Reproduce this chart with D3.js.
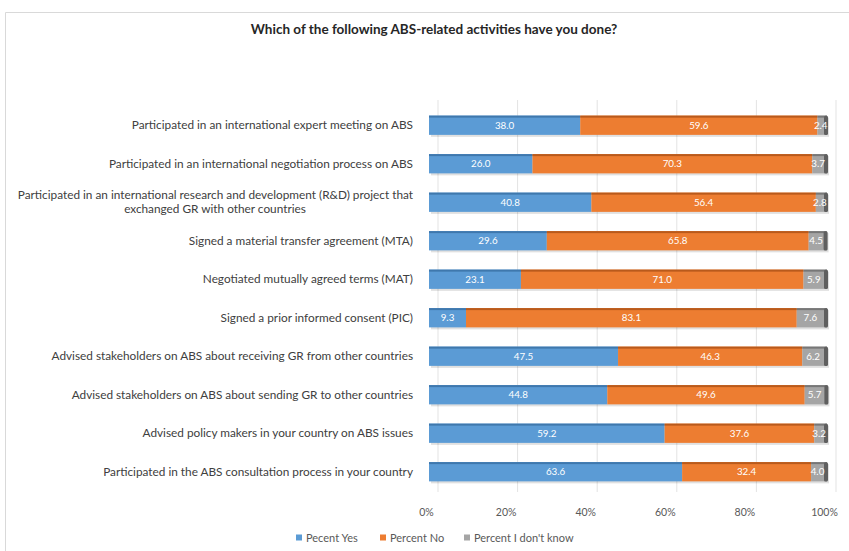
<!DOCTYPE html>
<html>
<head>
<meta charset="utf-8">
<script src="https://cdn.jsdelivr.net/npm/d3@7/dist/d3.min.js"></script>
<style>
  html, body { margin: 0; padding: 0; background: #ffffff; }
  svg { display: block; font-family: Lato, "Open Sans", sans-serif; }
</style>
</head>
<body>
<svg id="chart" width="849" height="551"></svg>
<script>
// Survey activities, top to bottom
const categories = [
  "Participated in an international expert meeting on ABS",
  "Participated in an international negotiation process on ABS",
  "Participated in an international research and development (R&D) project that|exchanged GR with other countries",
  "Signed a material transfer agreement (MTA)",
  "Negotiated mutually agreed terms (MAT)",
  "Signed a prior informed consent (PIC)",
  "Advised stakeholders on ABS about receiving GR from other countries",
  "Advised stakeholders on ABS about sending GR to other countries",
  "Advised policy makers in your country on ABS issues",
  "Participated in the ABS consultation process in your country"
];
const percentYes = [38.0, 26.0, 40.8, 29.6, 23.1, 9.3, 47.5, 44.8, 59.2, 63.6];
const percentNo = [59.6, 70.3, 56.4, 65.8, 71.0, 83.1, 46.3, 49.6, 37.6, 32.4];
const percentDontKnow = [2.4, 3.7, 2.8, 4.5, 5.9, 7.6, 6.2, 5.7, 3.2, 4.0];
const seriesNames = ["Pecent Yes", "Percent No", "Percent I don't know"];
const tickValues = [0, 20, 40, 60, 80, 100];

const colors = ["#5b9bd5", "#ed7d31", "#a5a5a5"];
const darker = ["#3f78ad", "#b95a1c", "#777777"];

const svg = d3.select("#chart");

// chart frame
svg.append("path")
  .attr("d", "M5.5,551 V12.5 H849")
  .attr("fill", "none")
  .attr("stroke", "#d9d9d9")
  .attr("stroke-width", 1);

// title
svg.append("text")
  .attr("x", 434).attr("y", 34)
  .attr("text-anchor", "middle")
  .attr("font-size", 13.5)
  .attr("font-weight", "bold")
  .attr("fill", "#262626")
  .text("Which of the following ABS-related activities have you done?");

const x = d3.scaleLinear().domain([0, 100]).range([429, 827]);
const y = d3.scaleBand().domain(d3.range(categories.length)).range([106, 491]).paddingInner(0.5).paddingOuter(0.25);
const depth = 9;

// back-wall gridlines (3D perspective offset)
svg.append("g").selectAll("line")
  .data(tickValues)
  .join("line")
  .attr("x1", d => x(d) + depth).attr("x2", d => x(d) + depth)
  .attr("y1", 100).attr("y2", 492)
  .attr("stroke", "#e3e3e3")
  .attr("stroke-width", 1);

// stacked data
const rows = categories.map((c, i) => ({ i, vals: [percentYes[i], percentNo[i], percentDontKnow[i]] }));
const segs = [];
rows.forEach(r => {
  let acc = 0;
  r.vals.forEach((v, k) => {
    segs.push({ i: r.i, k, v, x0: acc, x1: acc + v });
    acc += v;
  });
});

const bh = y.bandwidth();
const gBars = svg.append("g");

// soft shadow under each bar
gBars.selectAll("rect.shadow")
  .data(rows)
  .join("rect")
  .attr("class", "shadow")
  .attr("x", x(0) + 2)
  .attr("y", d => y(d.i) + 2)
  .attr("width", d => x(d3.sum(d.vals)) - x(0))
  .attr("height", bh)
  .attr("fill", "#000")
  .attr("opacity", 0.12);

// segment faces
gBars.selectAll("rect.seg")
  .data(segs)
  .join("rect")
  .attr("class", "seg")
  .attr("x", d => x(d.x0))
  .attr("y", d => y(d.i))
  .attr("width", d => x(d.x1) - x(d.x0))
  .attr("height", bh)
  .attr("fill", d => colors[d.k]);

// darker top edge
gBars.selectAll("rect.top")
  .data(segs)
  .join("rect")
  .attr("class", "top")
  .attr("x", d => x(d.x0))
  .attr("y", d => y(d.i))
  .attr("width", d => x(d.x1) - x(d.x0))
  .attr("height", 2)
  .attr("fill", d => darker[d.k]);

// dark side face at bar end
gBars.selectAll("rect.side")
  .data(rows)
  .join("rect")
  .attr("class", "side")
  .attr("x", d => x(d3.sum(d.vals)) - 3)
  .attr("y", d => y(d.i))
  .attr("width", 4)
  .attr("height", bh)
  .attr("rx", 1.5)
  .attr("fill", "#5f5f5f");

// value labels
gBars.selectAll("text.val")
  .data(segs)
  .join("text")
  .attr("class", "val")
  .attr("x", d => (x(d.x0) + x(d.x1)) / 2 - (d.k === 2 ? 1.5 : 0))
  .attr("y", d => y(d.i) + bh / 2 + 3.5)
  .attr("text-anchor", "middle")
  .attr("font-size", 9.8)
  .attr("fill", "#ffffff")
  .text(d => d.v.toFixed(1));

// category labels
const gLab = svg.append("g");
rows.forEach(r => {
  const lines = categories[r.i].split("|");
  const cy = y(r.i) + bh / 2;
  const t = gLab.append("text")
    .attr("font-size", 11.8)
    .attr("fill", "#404040");
  lines.forEach((ln, j) => {
    const wrapped = lines.length > 1 && j > 0;
    t.append("tspan")
      .attr("x", wrapped ? 215 : 413)
      .attr("text-anchor", wrapped ? "middle" : "end")
      .attr("y", cy + 4 + (j - (lines.length - 1) / 2) * 14)
      .text(ln);
  });
});

// x axis tick labels
const xAxis = d3.axisBottom(x).tickValues(tickValues).tickFormat(d => d + "%").tickSize(0);
const gx = svg.append("g").attr("transform", "translate(-3,506)").call(xAxis);
gx.select(".domain").remove();
gx.selectAll("text").attr("font-size", 10.5).attr("fill", "#595959").attr("font-family", "Lato, sans-serif");

// legend
const legendX = [296, 380, 464];
const gLeg = svg.append("g").attr("transform", "translate(0,538)");
seriesNames.forEach((n, k) => {
  gLeg.append("rect").attr("x", legendX[k]).attr("y", -3.5).attr("width", 6).attr("height", 6).attr("fill", colors[k]);
  gLeg.append("text").attr("x", legendX[k] + 10).attr("y", 3.5).attr("font-size", 11).attr("fill", "#595959").text(n);
});
</script>
</body>
</html>
